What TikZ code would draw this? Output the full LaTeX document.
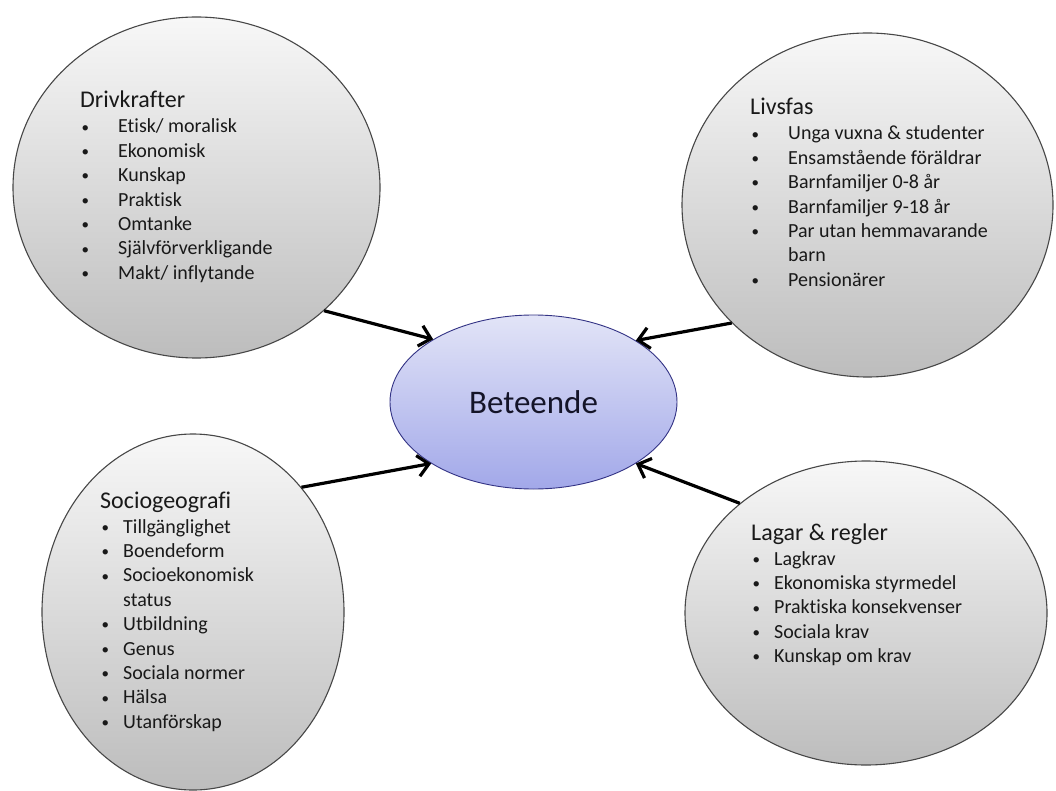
\documentclass[tikz,border=0pt]{standalone}
\usepackage{fontspec}
\setmainfont{Carlito}[Ligatures=NoCommon]
\usetikzlibrary{shapes.geometric,arrows.meta}
\newcommand\blt[1]{\makebox[#1pt][l]{\hspace*{1.5pt}\raisebox{0.8pt}{\fontsize{15}{15}\selectfont •}}}
\newcommand\ttlfont{\fontsize{24}{24.4}\selectfont}
\tikzset{
  grayell/.style={ellipse, draw=black!72, line width=1.1pt, inner sep=0pt,
    top color=black!3, middle color=black!11, bottom color=black!26},
  betell/.style={ellipse, draw=blue!40!black!80, line width=0.9pt, inner sep=0pt,
    top color={rgb,255:red,226;green,228;blue,247}, bottom color={rgb,255:red,162;green,168;blue,233},
    font=\fontsize{33}{40}\selectfont, text={rgb,255:red,20;green,20;blue,40}},
  txt/.style={inner sep=0pt, anchor=base west, font=\fontsize{20}{24.4}\selectfont, text=black!90},
  arr/.style={line width=3.2pt, -{Straight Barb[length=11pt,width=21pt]}},
}
\begin{document}
\begin{tikzpicture}[x=1pt,y=-1pt]
\fill[white] (0,0) rectangle (1056,791);
\useasboundingbox (0,0) rectangle (1056,791);

\node[grayell, minimum width=367pt, minimum height=341pt] (drv) at (196.5,187.5) {};
\node[grayell, minimum width=371pt, minimum height=344pt] (liv) at (867.5,205) {};
\node[grayell, minimum width=302pt, minimum height=356pt] (soc) at (193,612) {};
\node[grayell, minimum width=362pt, minimum height=304pt] (lag) at (866,613) {};
\node[betell, minimum width=287pt, minimum height=174pt] (bet) at (533.5,402) {Beteende};

\node[txt] (drvtxt) at (80,108) {\begin{tabular}[t]{@{}l@{}}
{\ttlfont Drivkrafter}\\[0.6pt]
\blt{38}Etisk/ moralisk\\
\blt{38}Ekonomisk\\
\blt{38}Kunskap\\
\blt{38}Praktisk\\
\blt{38}Omtanke\\
\blt{38}Självförverkligande\\
\blt{38}Makt/ inflytande
\end{tabular}};

\node[txt] (livtxt) at (750,115) {\begin{tabular}[t]{@{}l@{}}
{\ttlfont Livsfas}\\[0.6pt]
\blt{38}Unga vuxna \& studenter\\
\blt{38}Ensamstående föräldrar\\
\blt{38}Barnfamiljer 0-8 år\\
\blt{38}Barnfamiljer 9-18 år\\
\blt{38}Par utan hemmavarande\\
\hspace*{38pt}barn\\
\blt{38}Pensionärer
\end{tabular}};

\node[txt] (soctxt) at (100,508) {\begin{tabular}[t]{@{}l@{}}
{\ttlfont Sociogeografi}\\[0.6pt]
\blt{23}Tillgänglighet\\
\blt{23}Boendeform\\
\blt{23}Socioekonomisk\\
\hspace*{23pt}status\\
\blt{23}Utbildning\\
\blt{23}Genus\\
\blt{23}Sociala normer\\
\blt{23}Hälsa\\
\blt{23}Utanförskap
\end{tabular}};

\node[txt] (lagtxt) at (751,540) {\begin{tabular}[t]{@{}l@{}}
{\ttlfont Lagar \& regler}\\[0.6pt]
\blt{23}Lagkrav\\
\blt{23}Ekonomiska styrmedel\\
\blt{23}Praktiska konsekvenser\\
\blt{23}Sociala krav\\
\blt{23}Kunskap om krav
\end{tabular}};

\draw[arr] (drv.-44.1) -- (bet.148.7);
\draw[arr] (liv.221.1) -- (bet.31.4);
\draw[arr] (soc.49) -- (bet.211);
\draw[arr] (lag.139.3) -- (bet.-31.6);
\end{tikzpicture}
\end{document}
